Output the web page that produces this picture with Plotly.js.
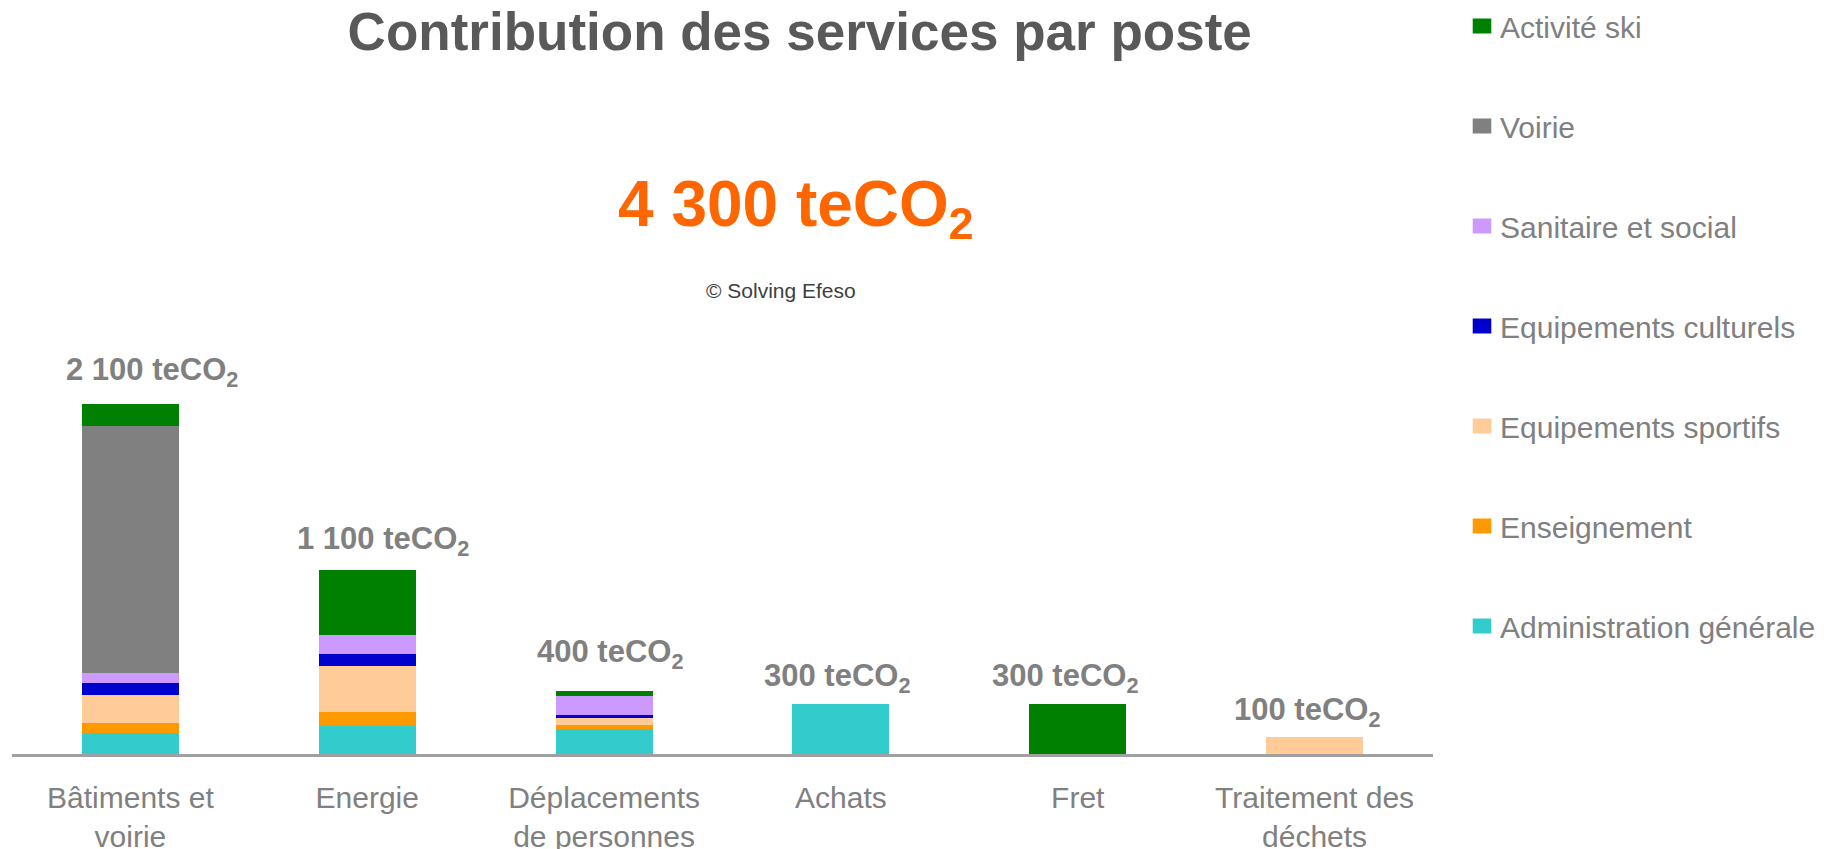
<!DOCTYPE html>
<html>
<head>
<meta charset="utf-8">
<script src="https://cdn.plot.ly/plotly-3.0.1.min.js"></script>
<style>
html,body{margin:0;padding:0;background:#fff;}
.legendpoints path{transform:translate(22px,0px) scale(1.55,1.25);}
</style>
</head>
<body>
<div id="chart" style="width:1830px;height:849px;"></div>
<script>
const categories = ["Bâtiments et<br>voirie", "Energie", "Déplacements<br>de personnes", "Achats", "Fret", "Traitement des<br>déchets"];
const administration = [124, 168, 152, 300, 0, 0];
const enseignement = [62, 84, 24, 0, 0, 0];
const sportifs = [168, 276, 42, 0, 0, 105];
const culturels = [72, 72, 18, 0, 0, 0];
const sanitaire = [60, 114, 114, 0, 0, 0];
const voirie = [1482, 0, 0, 0, 0, 0];
const ski = [132, 390, 30, 0, 300, 0];
const totalLabels = ["2 100", "1 100", "400", "300", "300", "100"];
const grandTotal = "4 300";

const series = [
  {name: "Administration générale", values: administration, color: "#33CCCC"},
  {name: "Enseignement", values: enseignement, color: "#FF9900"},
  {name: "Equipements sportifs", values: sportifs, color: "#FFCC99"},
  {name: "Equipements culturels", values: culturels, color: "#0000CC"},
  {name: "Sanitaire et social", values: sanitaire, color: "#CC99FF"},
  {name: "Voirie", values: voirie, color: "#808080"},
  {name: "Activité ski", values: ski, color: "#008000"}
];

const traces = series.map((s, i) => ({
  type: "bar",
  x: categories,
  y: s.values,
  name: s.name,
  legendgroup: "g" + i,
  legendrank: 1000 - i,
  marker: {color: s.color, line: {width: 0}},
  hoverinfo: "skip"
}));

const totals = categories.map((c, j) => series.reduce((a, s) => a + s.values[j], 0));

// label placement tweaks (pixels), layout only
const labelXShift = [22, 16, 6, -4, -13, -8];
const labelYShift = [10, 7, 15, 4, 4, 3];

const annotations = categories.map((c, j) => ({
  x: c, y: totals[j], xref: "x", yref: "y",
  text: totalLabels[j] + " teCO<sub>2</sub>",
  showarrow: false, yanchor: "bottom",
  xshift: labelXShift[j], yshift: labelYShift[j],
  font: {family: "Liberation Sans, Arial, sans-serif", size: 31, color: "#808080", weight: "bold"}
}));
annotations.push({
  x: 0.552, y: 1.093, xref: "paper", yref: "paper",
  text: grandTotal + " teCO<sub>2</sub>", showarrow: false,
  xanchor: "center", yanchor: "middle",
  font: {family: "Liberation Sans, Arial, sans-serif", size: 64, color: "#FF6600", weight: "bold"}
});
annotations.push({
  x: 0.541, y: 0.927, xref: "paper", yref: "paper",
  text: "© Solving Efeso", showarrow: false,
  xanchor: "center", yanchor: "middle",
  font: {family: "Liberation Sans, Arial, sans-serif", size: 21, color: "#404040"}
});

const layout = {
  width: 1830, height: 849,
  paper_bgcolor: "#fff", plot_bgcolor: "#fff",
  margin: {l: 12, r: 397, t: 254, b: 95, autoexpand: false},
  barmode: "stack",
  bargap: 0.59,
  title: {
    text: "Contribution des services par poste",
    x: 0.437, xanchor: "center", xref: "container",
    y: 0.963, yanchor: "middle", yref: "container",
    font: {family: "Liberation Sans, Arial, sans-serif", size: 53, color: "#595959", weight: "bold"}
  },
  xaxis: {
    showline: true, linecolor: "#A0A0A0", linewidth: 2.5,
    showgrid: false, zeroline: false, ticks: "",
    ticklabelstandoff: 15,
    tickfont: {family: "Liberation Sans, Arial, sans-serif", size: 30, color: "#808080"},
    fixedrange: true
  },
  yaxis: {
    range: [0, 3000], visible: false, showgrid: false, zeroline: false, fixedrange: true
  },
  legend: {
    x: 1.019, xanchor: "left",
    y: 1, yref: "container", yanchor: "top",
    traceorder: "grouped",
    tracegroupgap: 58,
    maxheight: 849,
    font: {family: "Liberation Sans, Arial, sans-serif", size: 30, color: "#808080"},
    bgcolor: "rgba(0,0,0,0)"
  },
  annotations: annotations,
  showlegend: true
};

Plotly.newPlot("chart", traces, layout, {displayModeBar: false, staticPlot: true});
</script>
</body>
</html>
